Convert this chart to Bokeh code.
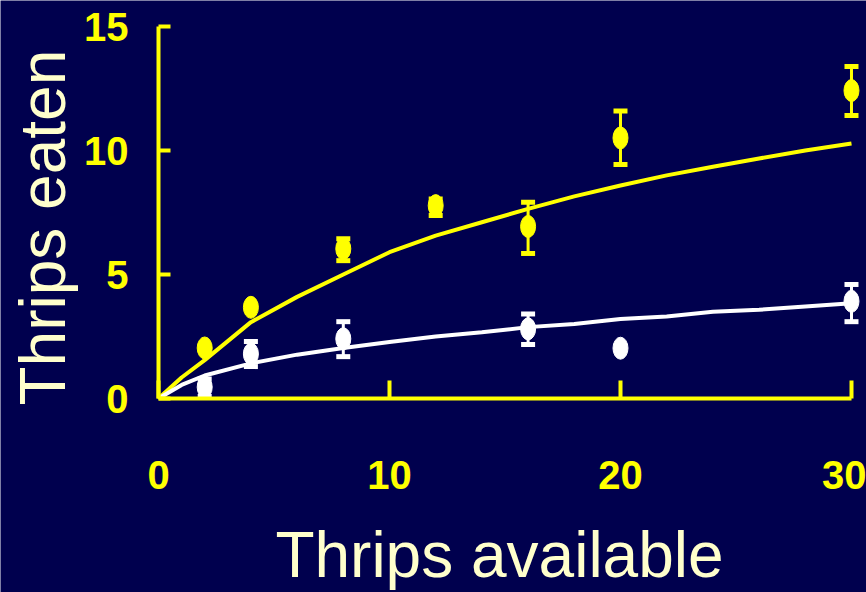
import math
from bokeh.plotting import figure
from bokeh.models import Range1d, FixedTicker, Whisker, TeeHead, ColumnDataSource, Label
from bokeh.embed import file_html
from bokeh.resources import INLINE

# ---- data ----
curve_x = [0, 1, 2, 4, 6, 8, 10, 12, 14, 16, 18, 20, 22, 24, 26, 28, 30]
yellow_curve = [0, 0.85, 1.55, 3.08, 4.1, 5.0, 5.9, 6.57, 7.11, 7.65, 8.15, 8.59, 9.0, 9.35, 9.68, 10.0, 10.28]
white_curve = [0, 0.55, 0.93, 1.42, 1.77, 2.04, 2.28, 2.5, 2.67, 2.88, 3.01, 3.21, 3.31, 3.5, 3.58, 3.71, 3.84]

points_x = [2, 4, 8, 12, 16, 20, 30]
yellow_mean = [2.04, 3.68, 6.04, 7.78, 6.94, 10.51, 12.42]
white_x = [2, 4, 8, 16, 20, 30]
white_mean = [0.46, 1.80, 2.41, 2.81, 2.03, 3.92]

yellow_err_x = [8, 12, 16, 20, 30]
yellow_err_lo = [5.56, 7.38, 5.85, 9.44, 11.41]
yellow_err_hi = [6.44, 8.05, 7.92, 11.59, 13.39]
white_err_x = [2, 4, 8, 16, 30]
white_err_lo = [0.08, 1.29, 1.69, 2.18, 3.10]
white_err_hi = [0.79, 2.30, 3.10, 3.41, 4.60]

x_ticks = [0, 10, 20, 30]
y_ticks = [0, 5, 10, 15]

BG = "#00004E"
YEL = "#FFFF00"
WHT = "#FFFFFF"
CREAM = "#FFFFCC"

p = figure(width=866, height=592, output_backend="svg", toolbar_location=None,
           x_range=Range1d(-6.84, 30.65), y_range=Range1d(-7.82, 16.05))
p.min_border = 0
p.background_fill_color = BG
p.border_fill_color = BG
p.outline_line_color = None
p.grid.visible = False

for ax, ticks, bnds in ((p.xaxis[0], x_ticks, (0, 30)), (p.yaxis[0], y_ticks, (0, 15))):
    ax.fixed_location = 0
    ax.ticker = FixedTicker(ticks=ticks)
    ax.bounds = bnds
    ax.axis_line_color = YEL
    ax.axis_line_width = 4
    ax.major_tick_line_color = YEL
    ax.major_tick_line_width = 4
    ax.major_tick_out = 0
    ax.minor_tick_line_color = None
    ax.major_label_text_color = YEL
    ax.major_label_text_font = "Liberation Sans"
    ax.major_label_text_font_style = "bold"
    ax.major_label_text_font_size = "40px"

p.xaxis[0].major_tick_in = 18
p.xaxis[0].major_label_standoff = 62
p.yaxis[0].major_tick_in = 12
p.yaxis[0].major_label_standoff = 30

# fitted curves
p.line(curve_x, yellow_curve, line_color=YEL, line_width=4)
p.line(curve_x, white_curve, line_color=WHT, line_width=4)

# error bars
for ex, lo, hi, col in ((yellow_err_x, yellow_err_lo, yellow_err_hi, YEL),
                        (white_err_x, white_err_lo, white_err_hi, WHT)):
    src = ColumnDataSource(dict(x=ex, lo=lo, hi=hi))
    w = Whisker(base="x", lower="lo", upper="hi", source=src,
                line_color=col, line_width=3,
                upper_head=TeeHead(size=14, line_color=col, line_width=5),
                lower_head=TeeHead(size=14, line_color=col, line_width=5))
    p.add_layout(w)

# means
p.ellipse(points_x, yellow_mean, width=15, height=22, width_units="screen", height_units="screen",
          fill_color=YEL, line_color=YEL)
p.ellipse(white_x, white_mean, width=15, height=22, width_units="screen", height_units="screen",
          fill_color=WHT, line_color=WHT)

# axis titles
p.add_layout(Label(x=5.06, y=-6.31, text="Thrips available", text_align="left",
                   text_baseline="alphabetic", text_font="Liberation Sans",
                   text_font_size="64px", text_color=CREAM))
p.add_layout(Label(x=-4.98, y=-0.28, text="Thrips eaten", angle=math.pi / 2, angle_units="rad",
                   text_align="left", text_baseline="alphabetic", text_font="Liberation Sans",
                   text_font_size="64px", text_color=CREAM))

open("out.html", "w").write(file_html(p, INLINE))
